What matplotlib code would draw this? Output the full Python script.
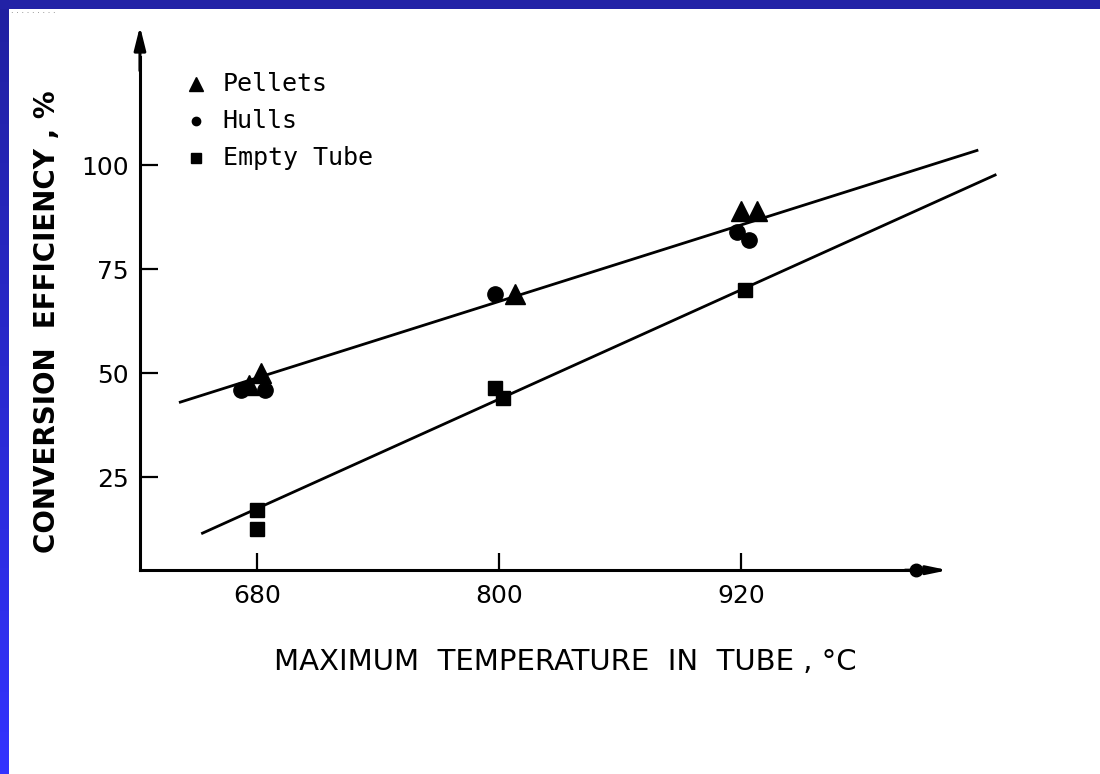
import numpy as np
import matplotlib
matplotlib.use("Agg")
import matplotlib.pyplot as plt

# ---- data ----
pellets_x = [676, 682, 808, 920, 928]
pellets_y = [47, 50, 69, 89, 89]
hulls_x = [672, 684, 798, 918, 924]
hulls_y = [46, 46, 69, 84, 82]
empty_x = [680, 680, 798, 802, 922]
empty_y = [17, 12.5, 46.5, 44, 70]

upper_line_x = [642, 1037]
upper_line_y = [43, 103.5]
lower_line_x = [653, 1046]
lower_line_y = [11.5, 97.6]

x_ticks = [680, 800, 920]
y_ticks = [25, 50, 75, 100]
x_tick_labels = ["680", "800", "920"]
y_tick_labels = ["25", "50", "75", "100"]

W, H = 1100, 774
fig = plt.figure(figsize=(W / 100, H / 100), dpi=100, facecolor="white")

# ---- background frame (blue bars) ----
bg = fig.add_axes([0, 0, 1, 1])
bg.set_xlim(0, W)
bg.set_ylim(H, 0)
bg.axis("off")
grad = np.linspace(0, 1, 256).reshape(-1, 1)
top_c = np.array([0x20, 0x20, 0xA0]) / 255
bot_c = np.array([0x33, 0x33, 0xFF]) / 255
img = top_c[None, None, :] * (1 - grad[..., None]) + bot_c[None, None, :] * grad[..., None]
bg.imshow(img, extent=[0, 9, H, 0], aspect="auto")
bg.add_patch(plt.Rectangle((0, 0), W, 9, color="#2222A6", lw=0))
bg.text(11, 14, "· · · · · · · · ·", fontsize=6, color="#666666",
        va="center", ha="left")

# ---- main axes ----
ax = fig.add_axes([0.0869, 0.1956, 0.8801, 0.7793])
ax.set_xlim(600, 1080)
ax.set_ylim(-10, 135)
ax.patch.set_alpha(0)

for s in ["top", "right"]:
    ax.spines[s].set_visible(False)
ax.spines["left"].set_position(("data", 622))
ax.spines["bottom"].set_position(("data", 2.6))
ax.spines["left"].set_bounds(2.6, 126)
ax.spines["bottom"].set_bounds(622, 1005)
for s in ["left", "bottom"]:
    ax.spines[s].set_linewidth(2.2)
    ax.spines[s].set_color("black")

ax.set_xticks(x_ticks)
ax.set_xticklabels(x_tick_labels)
ax.set_yticks(y_ticks)
ax.set_yticklabels(y_tick_labels)
ax.tick_params(axis="y", direction="in", length=13, width=1.6, pad=8,
               labelsize=18, colors="black")
ax.tick_params(axis="x", direction="in", length=12, width=1.6, pad=10,
               labelsize=18, colors="black")

# arrowheads
ax.annotate("", xy=(622, 134), xytext=(622, 122), annotation_clip=False,
            arrowprops=dict(arrowstyle="-|>,head_length=1.4,head_width=0.35",
                            color="black", lw=2.2))
ax.annotate("", xy=(1024, 2.6), xytext=(1000, 2.6), annotation_clip=False,
            arrowprops=dict(arrowstyle="-|>,head_length=1.2,head_width=0.25",
                            color="black", lw=2.2))
ax.plot([1007], [2.6], marker="o", ms=9, color="black", clip_on=False)

# fitted lines
ax.plot(upper_line_x, upper_line_y, color="black", lw=2.0)
ax.plot(lower_line_x, lower_line_y, color="black", lw=2.0)

# data points
ax.plot(pellets_x, pellets_y, ls="none", marker="^", ms=14, color="black",
        label="Pellets")
ax.plot(hulls_x, hulls_y, ls="none", marker="o", ms=11, color="black",
        label="Hulls")
ax.plot(empty_x, empty_y, ls="none", marker="s", ms=10, color="black",
        label="Empty Tube")

# legend (drawn as text + markers in data space)
leg_x = 650
leg_text_x = 663
leg_rows = [("^", 10, "Pellets", 119.5), ("o", 6, "Hulls", 110.5),
            ("s", 7, "Empty Tube", 101.8)]
for mk, ms, lab, yy in leg_rows:
    ax.plot([leg_x], [yy], marker=mk, ms=ms, color="black", ls="none")
    ax.text(leg_text_x, yy, lab, fontsize=18, va="center", ha="left",
            color="black", family="DejaVu Sans Mono")

# axis labels
fig.text(565 / W, 1 - 662 / H, "MAXIMUM  TEMPERATURE  IN  TUBE , °C",
         fontsize=21, ha="center", va="center", color="black")
fig.text(47 / W, 1 - 322 / H, "CONVERSION  EFFICIENCY , %",
         fontsize=20, ha="center", va="center", rotation=90,
         color="black", fontweight="bold")

fig.savefig("out.png", dpi=100, facecolor="white")
